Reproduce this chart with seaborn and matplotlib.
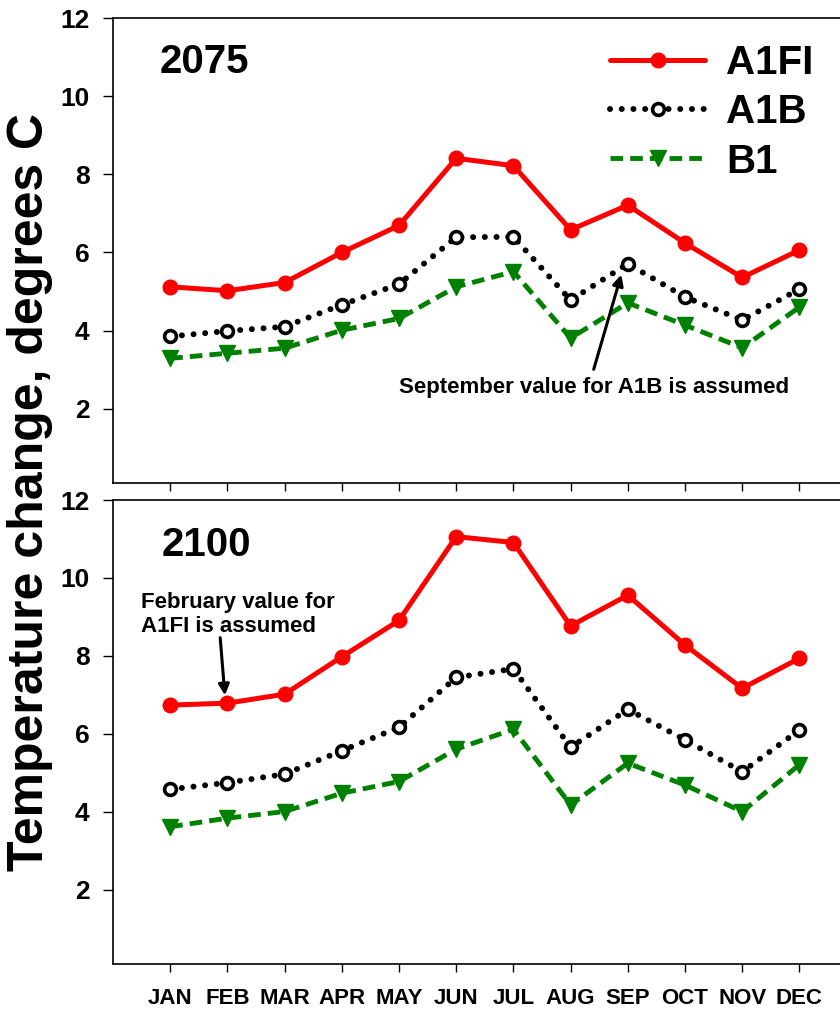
import seaborn as sns
import matplotlib.pyplot as plt

# months on the x axis
months = ['JAN', 'FEB', 'MAR', 'APR', 'MAY', 'JUN', 'JUL', 'AUG', 'SEP', 'OCT', 'NOV', 'DEC']
month_num = list(range(1, 13))

# 2075 temperature change (degrees C)
a1fi_2075 = [5.12, 5.02, 5.23, 6.00, 6.69, 8.41, 8.22, 6.58, 7.21, 6.24, 5.36, 6.06]
a1b_2075 = [3.85, 3.99, 4.10, 4.66, 5.19, 6.39, 6.40, 4.78, 5.71, 4.86, 4.27, 5.06]
b1_2075 = [3.29, 3.42, 3.55, 4.01, 4.31, 5.12, 5.51, 3.81, 4.71, 4.14, 3.56, 4.60]

# 2100 temperature change (degrees C)
a1fi_2100 = [6.74, 6.79, 7.02, 7.98, 8.91, 11.06, 10.91, 8.77, 9.56, 8.28, 7.17, 7.94]
a1b_2100 = [4.58, 4.75, 4.97, 5.57, 6.17, 7.45, 7.67, 5.66, 6.63, 5.85, 5.03, 6.10]
b1_2100 = [3.62, 3.84, 4.01, 4.48, 4.78, 5.61, 6.12, 4.18, 5.25, 4.69, 4.01, 5.21]

sns.set_style('ticks')
plt.rcParams['font.family'] = ['Liberation Sans', 'DejaVu Sans']
plt.rcParams['font.weight'] = 'bold'
plt.rcParams['text.color'] = 'black'
plt.rcParams['xtick.color'] = 'black'
plt.rcParams['ytick.color'] = 'black'
plt.rcParams['axes.labelcolor'] = 'black'

fig = plt.figure(figsize=(8.4, 10.1), dpi=100)
ax_top = fig.add_axes([113 / 840, 1 - 483 / 1010, 743.6 / 840, 465 / 1010])
ax_bot = fig.add_axes([113 / 840, 1 - 964 / 1010, 743.6 / 840, 464 / 1010])

# style for each scenario
red_kw = dict(color='red', lw=3.6, linestyle='-', marker='o', markersize=10.5,
              markerfacecolor='red', markeredgecolor='red', markeredgewidth=1)
blk_kw = dict(color='black', lw=4.3, linestyle=(0, (0.01, 1.95)), dash_capstyle='round',
              marker='o', markersize=8.5, markerfacecolor='white',
              markeredgecolor='black', markeredgewidth=2.6)
grn_kw = dict(color='green', lw=3.5, linestyle=(0, (2.6, 1.45)), marker='v', markersize=11,
              markerfacecolor='green', markeredgecolor='green', markeredgewidth=1)

for ax, a1fi, a1b, b1 in [(ax_top, a1fi_2075, a1b_2075, b1_2075),
                          (ax_bot, a1fi_2100, a1b_2100, b1_2100)]:
    sns.lineplot(x=month_num, y=a1fi, ax=ax, label='A1FI', legend=False, **red_kw)
    sns.lineplot(x=month_num, y=a1b, ax=ax, label='A1B', legend=False, **blk_kw)
    sns.lineplot(x=month_num, y=b1, ax=ax, label='B1', legend=False, **grn_kw)
    ax.set_xlim(0, 13)
    ax.set_ylim(0.1, 12)
    ax.set_yticks([2, 4, 6, 8, 10, 12])
    ax.set_xticks(month_num)
    ax.set_xticklabels(months)
    ax.set_xlabel('')
    ax.set_ylabel('')
    ax.tick_params(axis='y', direction='out', length=7, width=1, labelsize=19, pad=10)
    ax.tick_params(axis='x', direction='out', length=6, width=1, labelsize=16, pad=11)
    for s in ax.spines.values():
        s.set_linewidth(1.2)
        s.set_color('black')

ax_top.tick_params(axis='x', labelbottom=False)

ax_top.text(0.063, 0.906, '2075', transform=ax_top.transAxes, fontsize=29,
            fontweight='bold', ha='left', va='center')
ax_bot.text(0.066, 0.903, '2100', transform=ax_bot.transAxes, fontsize=29,
            fontweight='bold', ha='left', va='center')

handles, labels = ax_top.get_legend_handles_labels()
ax_top.legend(handles, labels, loc='upper left', bbox_to_anchor=(610 / 840, 1 - 44 / 1010),
              bbox_transform=fig.transFigure, frameon=False, fontsize=29, borderpad=0,
              borderaxespad=0, handlelength=2.36, handletextpad=0.52, labelspacing=0.28)

# annotations
ax_top.text(5.0, 2.55, 'September value for A1B is assumed', fontsize=16,
            fontweight='bold', ha='left', va='center')
ax_top.annotate('', xy=(8.9, 5.5), xytext=(8.39, 2.94),
                arrowprops=dict(arrowstyle='-|>', color='black', lw=2.2, mutation_scale=16))
ax_bot.text(0.49, 9.06, 'February value for\nA1FI is assumed', fontsize=16,
            fontweight='bold', ha='left', va='center', linespacing=1.2)
ax_bot.annotate('', xy=(1.96, 6.92), xytext=(1.87, 8.54),
                arrowprops=dict(arrowstyle='-|>', color='black', lw=2.2, mutation_scale=16))

fig.text(30 / 840, 1 - 492 / 1010, 'Temperature change, degrees C', rotation=90,
         fontsize=36, fontweight='bold', ha='center', va='center')

plt.savefig('out.png', dpi=100)
